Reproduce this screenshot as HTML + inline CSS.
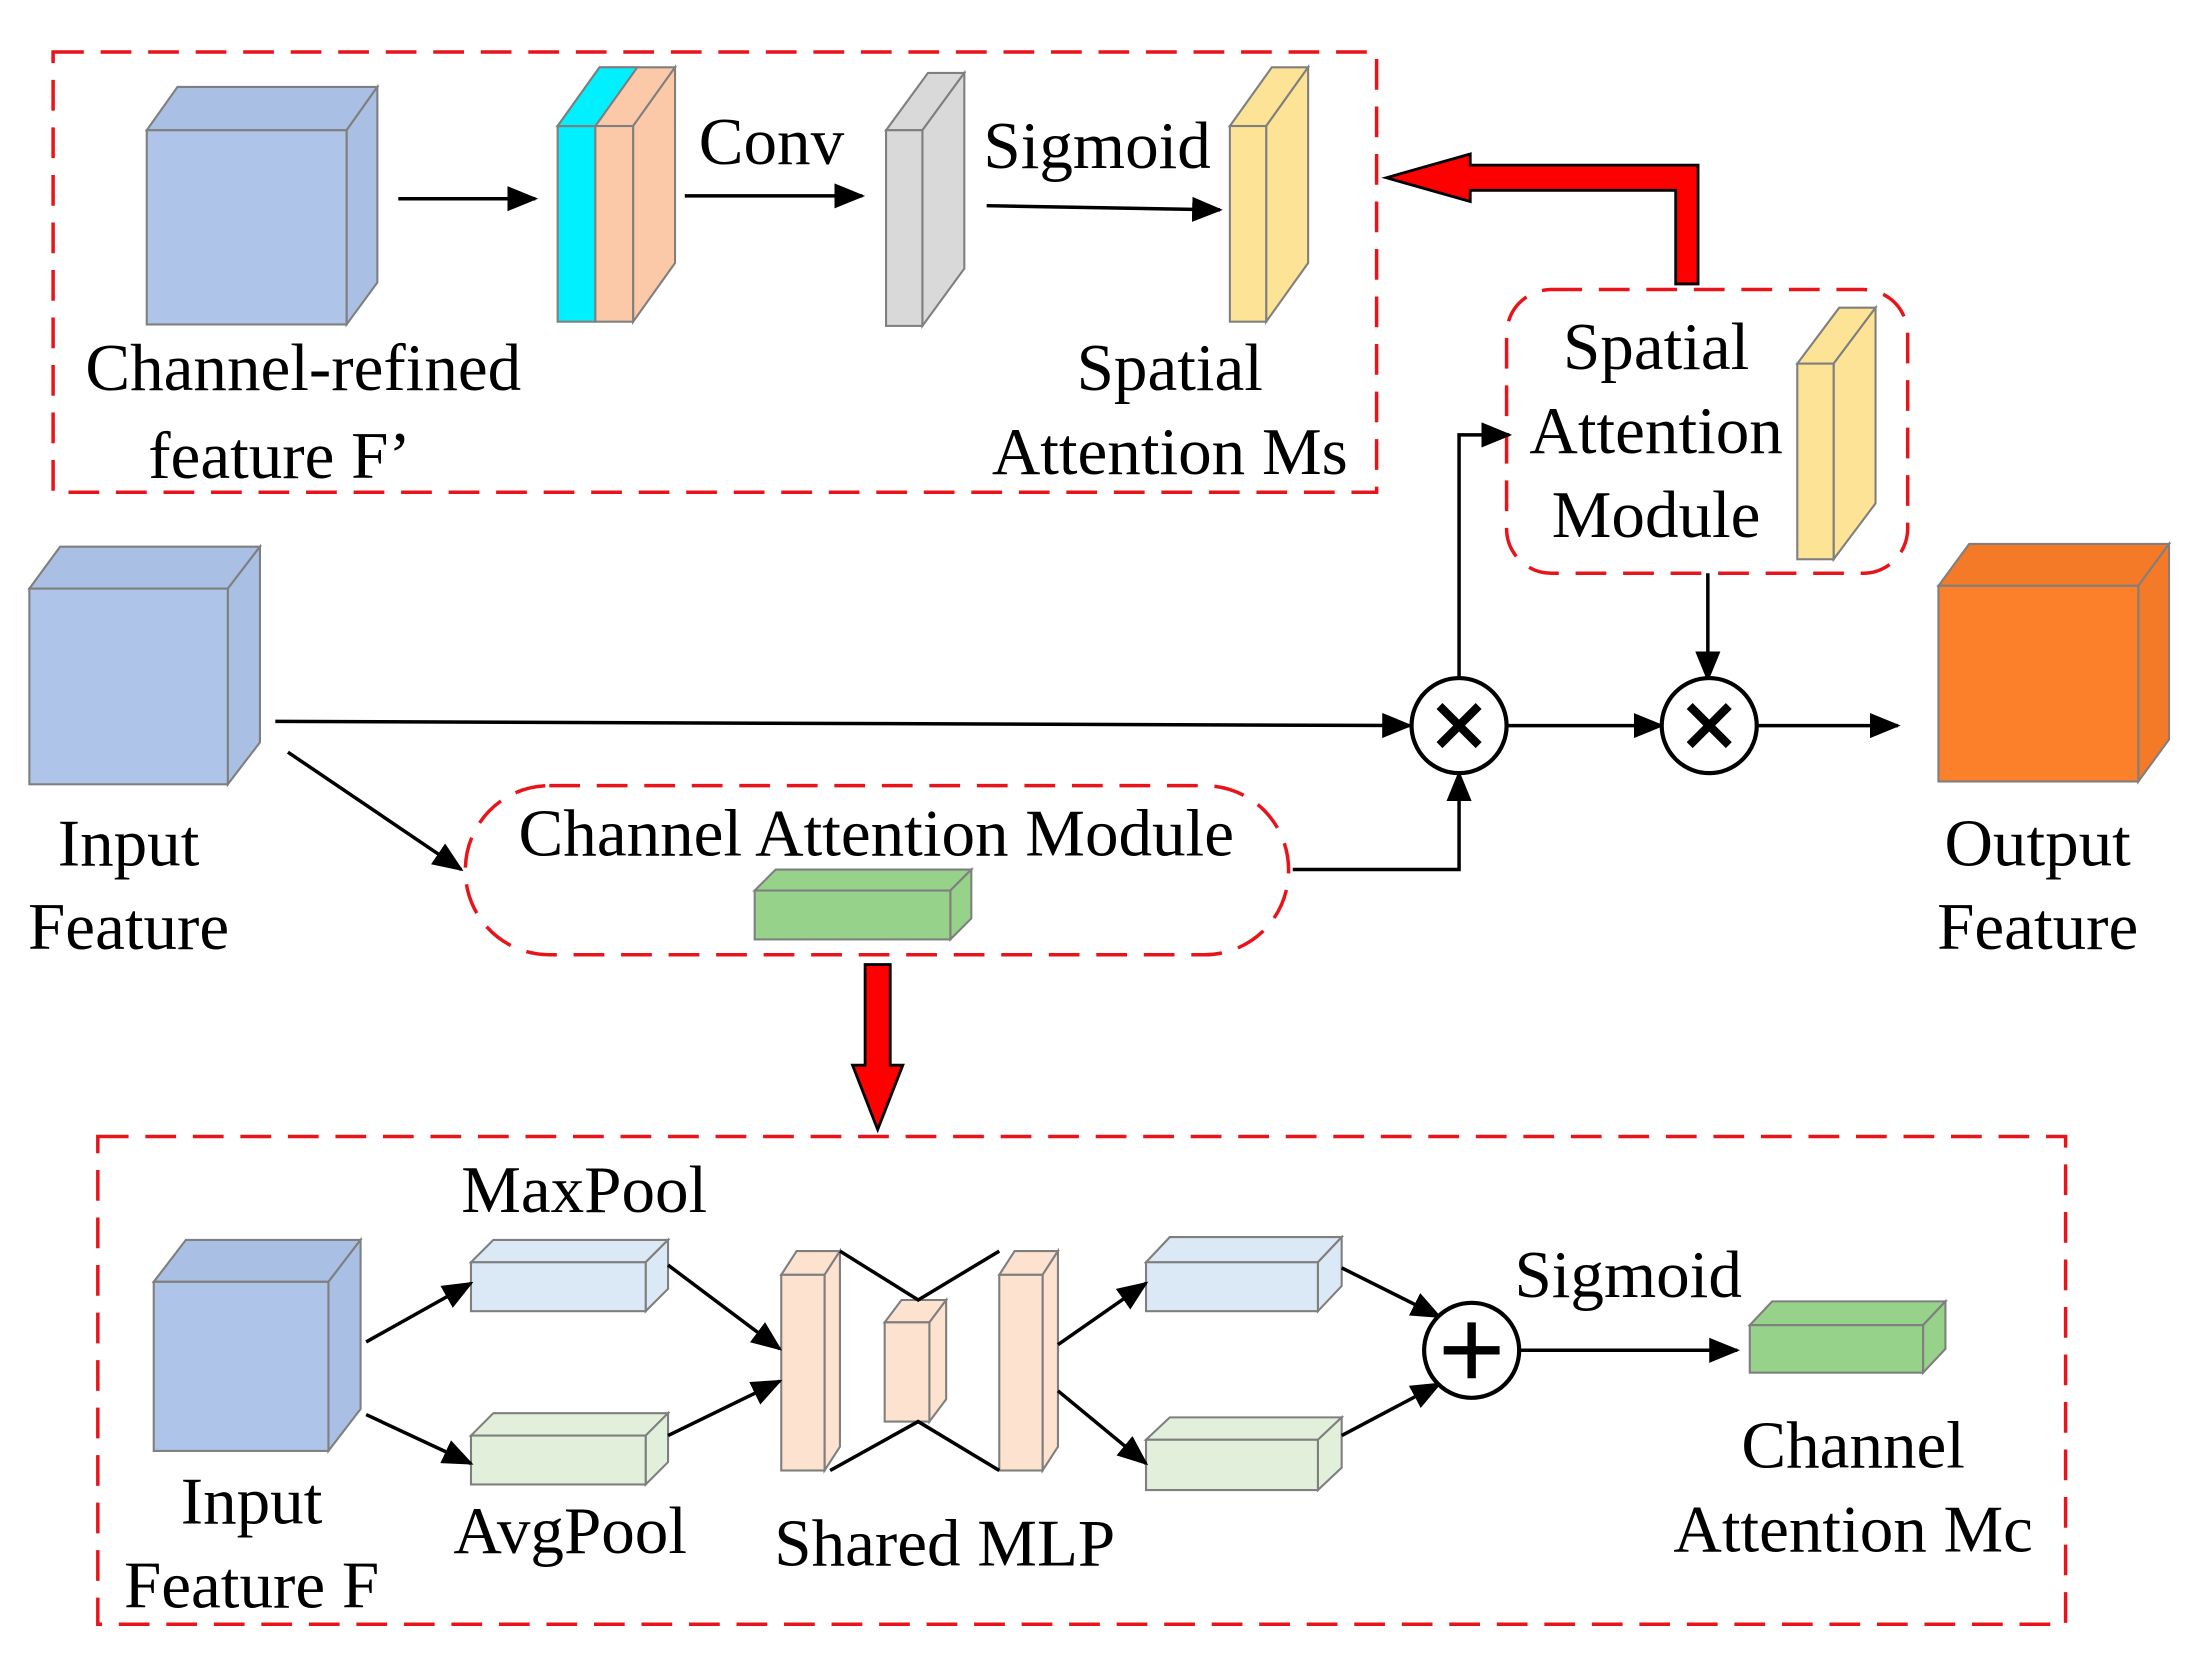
<!DOCTYPE html>
<html><head><meta charset="utf-8"><style>html,body{margin:0;padding:0;background:#fff}svg{display:block}</style></head>
<body>
<svg width="2190" height="1665" viewBox="0 0 1567 1191" xmlns="http://www.w3.org/2000/svg" font-family="Liberation Serif, serif" font-size="48" text-anchor="middle">
<defs>
<marker id="ah" markerWidth="22" markerHeight="18" refX="20" refY="9" orient="auto" markerUnits="userSpaceOnUse" viewBox="0 0 22 18"><path d="M0,0 L22,9 L0,18 z" fill="#000"/></marker>
</defs>
<g fill="none" stroke="#e8141a" stroke-width="2.5" stroke-dasharray="22,12">
<rect x="38" y="37" width="947" height="315"/>
<rect x="1078" y="207" width="287" height="203" rx="32"/>
<rect x="333" y="562" width="589" height="121" rx="60"/>
<rect x="70" y="813" width="1408" height="349"/>
</g>
<g stroke="#7f7f7f" stroke-width="1.5">
<polygon points="105,93 127,62 270,62 248,93" fill="#a9bfe3"/>
<polygon points="248,93 270,62 270,202 248,232" fill="#a9bfe3"/>
<rect x="105" y="93" width="143" height="139" fill="#aec4e8"/>
<polygon points="399,90 429,48 483,48 453,90" fill="#fbc9a8"/>
<polygon points="453,90 483,48 483,188 453,230" fill="#fbc9a8"/>
<rect x="399" y="90" width="27" height="140" fill="#00f0ff"/>
<rect x="426" y="90" width="27" height="140" fill="#fbc9a8"/>
<polygon points="399,90 429,48 456,48 426,90" fill="#00f0ff"/>
<polygon points="634,93 664,52 690,52 660,93" fill="#d9d9d9"/>
<polygon points="660,93 690,52 690,192 660,233" fill="#d9d9d9"/>
<rect x="634" y="93" width="26" height="140" fill="#d9d9d9"/>
<polygon points="880,90 910,48 936,48 906,90" fill="#fde396"/>
<polygon points="906,90 936,48 936,188 906,230" fill="#fde396"/>
<rect x="880" y="90" width="26" height="140" fill="#fde396"/>
<polygon points="1286,260 1316,220 1342,220 1312,260" fill="#fde396"/>
<polygon points="1312,260 1342,220 1342,360 1312,400" fill="#fde396"/>
<rect x="1286" y="260" width="26" height="140" fill="#fde396"/>
<polygon points="21,421 43,391 186,391 163,421" fill="#a9bfe3"/>
<polygon points="163,421 186,391 186,531 163,561" fill="#a9bfe3"/>
<rect x="21" y="421" width="142" height="140" fill="#aec4e8"/>
<polygon points="1387,419 1409,389 1552,389 1530,419" fill="#f47a28"/>
<polygon points="1530,419 1552,389 1552,529 1530,559" fill="#f47a28"/>
<rect x="1387" y="419" width="143" height="140" fill="#fc7f2a"/>
<polygon points="540,637 555,622 695,622 680,637" fill="#96d28a"/>
<polygon points="680,637 695,622 695,657 680,672" fill="#96d28a"/>
<rect x="540" y="637" width="140" height="35" fill="#96d28a"/>
<polygon points="110,917 133,887 258,887 235,917" fill="#a9bfe3"/>
<polygon points="235,917 258,887 258,1008 235,1038" fill="#a9bfe3"/>
<rect x="110" y="917" width="125" height="121" fill="#aec4e8"/>
<polygon points="337,903 353,887 478,887 462,903" fill="#dbe8f5"/>
<polygon points="462,903 478,887 478,922 462,938" fill="#dbe8f5"/>
<rect x="337" y="903" width="125" height="35" fill="#dbe8f5"/>
<polygon points="337,1027 353,1011 478,1011 462,1027" fill="#e2efda"/>
<polygon points="462,1027 478,1011 478,1046 462,1062" fill="#e2efda"/>
<rect x="337" y="1027" width="125" height="35" fill="#e2efda"/>
<polygon points="559,912 570,895 601,895 590,912" fill="#fde2cf"/>
<polygon points="590,912 601,895 601,1035 590,1052" fill="#fde2cf"/>
<rect x="559" y="912" width="31" height="140" fill="#fde2cf"/>
<polygon points="633,946 645,930 677,930 665,946" fill="#fde2cf"/>
<polygon points="665,946 677,930 677,1001 665,1017" fill="#fde2cf"/>
<rect x="633" y="946" width="32" height="71" fill="#fde2cf"/>
<polygon points="715,912 726,895 757,895 746,912" fill="#fde2cf"/>
<polygon points="746,912 757,895 757,1035 746,1052" fill="#fde2cf"/>
<rect x="715" y="912" width="31" height="140" fill="#fde2cf"/>
<polygon points="820,903 837,885 960,885 943,903" fill="#dbe8f5"/>
<polygon points="943,903 960,885 960,920 943,938" fill="#dbe8f5"/>
<rect x="820" y="903" width="123" height="35" fill="#dbe8f5"/>
<polygon points="820,1030 837,1014 960,1014 943,1030" fill="#e2efda"/>
<polygon points="943,1030 960,1014 960,1050 943,1066" fill="#e2efda"/>
<rect x="820" y="1030" width="123" height="36" fill="#e2efda"/>
<polygon points="1252,948 1268,931 1392,931 1376,948" fill="#96d28a"/>
<polygon points="1376,948 1392,931 1392,965 1376,982" fill="#96d28a"/>
<rect x="1252" y="948" width="124" height="34" fill="#96d28a"/>
</g>
<g stroke="#000" stroke-width="2.5" fill="none" marker-end="url(#ah)">
<line x1="285" y1="142" x2="383" y2="142"/>
<line x1="490" y1="140" x2="617" y2="140"/>
<line x1="706" y1="147" x2="873" y2="150"/>
<line x1="197" y1="516" x2="1009" y2="519"/>
<line x1="1078" y1="519" x2="1189" y2="519"/>
<line x1="1257" y1="519" x2="1358" y2="519"/>
<polyline points="1044,485 1044,311 1080,311"/>
<line x1="1222" y1="410" x2="1222" y2="486"/>
<line x1="206" y1="538" x2="330" y2="622"/>
<polyline points="925,622 1044,622 1044,553"/>
<line x1="262" y1="960" x2="337" y2="918"/>
<line x1="262" y1="1012" x2="337" y2="1047"/>
<line x1="478" y1="905" x2="558" y2="965"/>
<line x1="478" y1="1027" x2="558" y2="988"/>
<line x1="757" y1="962" x2="820" y2="918"/>
<line x1="757" y1="995" x2="820" y2="1047"/>
<line x1="960" y1="907" x2="1030" y2="942"/>
<line x1="960" y1="1027" x2="1030" y2="990"/>
<line x1="1087" y1="966" x2="1243" y2="966"/>
</g>
<g stroke="#000" stroke-width="2.5" fill="none">
<polyline points="601,895 657,930 715,895"/>
<polyline points="594,1052 657,1017 715,1052"/>
</g>
<g stroke="#000" stroke-width="3" fill="#fff">
<circle cx="1044" cy="519" r="34"/>
<circle cx="1223" cy="519" r="34"/>
<circle cx="1053" cy="966" r="34"/>
</g>
<g stroke="#000" stroke-width="6">
<line x1="1030" y1="505" x2="1058" y2="533"/><line x1="1058" y1="505" x2="1030" y2="533"/>
<line x1="1209" y1="505" x2="1237" y2="533"/><line x1="1237" y1="505" x2="1209" y2="533"/>
<line x1="1033" y1="966" x2="1073" y2="966"/><line x1="1053" y1="946" x2="1053" y2="986"/>
</g>
<polygon points="1199,203 1215,203 1215,118 1052,118 1052,110 992,127 1052,144 1052,136 1199,136" fill="#ff0000" stroke="#000" stroke-width="2"/>
<polygon points="619,690 637,690 637,762 646,762 628,808 610,762 619,762" fill="#ff0000" stroke="#000" stroke-width="2"/>
<g fill="#000">
<text x="552" y="117">Conv</text>
<text x="785" y="120">Sigmoid</text>
<text x="837" y="279">Spatial</text>
<text x="837" y="339">Attention Ms</text>
<text x="217" y="279">Channel-refined</text>
<text x="200" y="342">feature F’</text>
<text x="1185" y="264">Spatial</text>
<text x="1185" y="324">Attention</text>
<text x="1185" y="384">Module</text>
<text x="92" y="619">Input</text>
<text x="92" y="679">Feature</text>
<text x="1458" y="619">Output</text>
<text x="1458" y="679">Feature</text>
<text x="627" y="612">Channel Attention Module</text>
<text x="418" y="867">MaxPool</text>
<text x="408" y="1111">AvgPool</text>
<text x="676" y="1120">Shared MLP</text>
<text x="180" y="1090">Input</text>
<text x="180" y="1150">Feature F</text>
<text x="1165" y="928">Sigmoid</text>
<text x="1326" y="1050">Channel</text>
<text x="1326" y="1110">Attention Mc</text>
</g>
</svg>
</body></html>
